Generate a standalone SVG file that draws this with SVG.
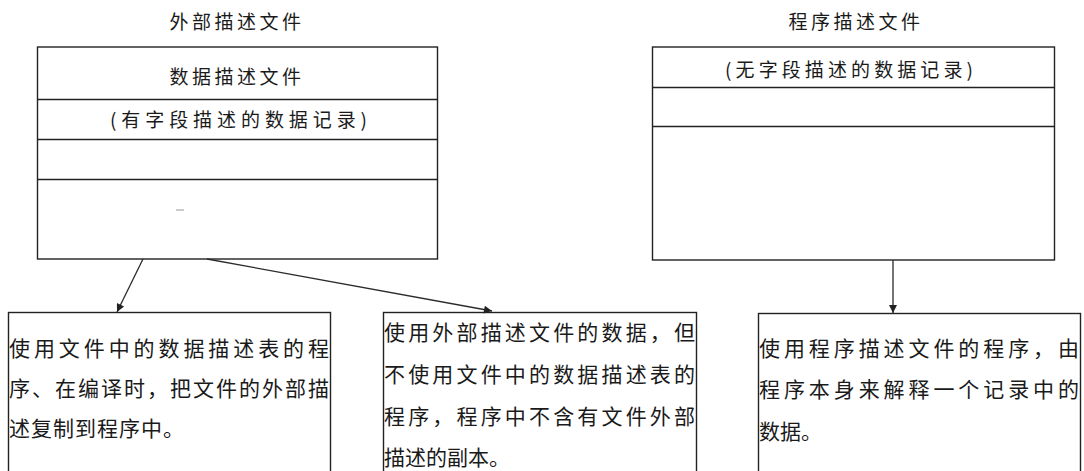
<svg xmlns="http://www.w3.org/2000/svg" width="1084" height="471" viewBox="0 0 1084 471">
<style>
.bx{fill:none;stroke:#222;stroke-width:1.4}
.ln{stroke:#222;stroke-width:1.3}
.t{font-family:"Noto Sans CJK SC","Noto Sans CJK JP",sans-serif;fill:#1a1a1a;dominant-baseline:central}
.h{font-size:19px;letter-spacing:3.5px}
.b{font-size:21px}
.c{stroke:#2a2a2a;stroke-width:1.3;fill:none}
</style>
<defs>
<marker id="ah" viewBox="0 0 10 10" refX="10" refY="5" markerWidth="12" markerHeight="8" markerUnits="userSpaceOnUse" orient="auto">
<path d="M0,0 L10,5 L0,10 Z" fill="#222"/>
</marker>
</defs>
<rect width="1084" height="471" fill="#fff"/>

<g id="external-file">
<text class="t h" x="237" y="20" text-anchor="middle">外部描述文件</text>
<rect class="bx" x="37.5" y="47" width="400" height="212"/>
<line class="ln" x1="37.5" y1="99.5" x2="437.5" y2="99.5"/>
<line class="ln" x1="37.5" y1="139.5" x2="437.5" y2="139.5"/>
<line class="ln" x1="37.5" y1="179.5" x2="437.5" y2="179.5"/>
<text class="t h" x="237" y="75" text-anchor="middle">数据描述文件</text>
<text class="t" x="110" y="118" font-size="19" textLength="257" lengthAdjust="spacing">(有字段描述的数据记录)</text>
<line x1="176" y1="210" x2="184" y2="210" stroke="#999" stroke-width="1"/>
</g>

<g id="program-file">
<text class="t h" x="856" y="20" text-anchor="middle">程序描述文件</text>
<rect class="bx" x="652.5" y="47" width="402" height="213"/>
<line class="ln" x1="652.5" y1="87.5" x2="1054.5" y2="87.5"/>
<line class="ln" x1="652.5" y1="126.5" x2="1054.5" y2="126.5"/>
<text class="t" x="725" y="68" font-size="19" textLength="248" lengthAdjust="spacing">(无字段描述的数据记录)</text>
</g>

<g id="prog-with-table">
<rect class="bx" x="8.5" y="312.5" width="322" height="180"/>
<text class="t b" x="9" y="347" textLength="320" lengthAdjust="spacing">使用文件中的数据描述表的程</text>
<text class="t b" x="9" y="387" textLength="320" lengthAdjust="spacing">序、在编译时，把文件的外部描</text>
<text class="t b" x="9" y="427" letter-spacing="1">述复制到程序中。</text>
</g>

<g id="prog-no-table">
<rect class="bx" x="383.5" y="312.5" width="313" height="180"/>
<text class="t b" x="384" y="331" textLength="311" lengthAdjust="spacing">使用外部描述文件的数据，但</text>
<text class="t b" x="384" y="373" textLength="311" lengthAdjust="spacing">不使用文件中的数据描述表的</text>
<text class="t b" x="384" y="415" textLength="311" lengthAdjust="spacing">程序，程序中不含有文件外部</text>
<text class="t b" x="384" y="456">描述的副本。</text>
</g>

<g id="prog-own-desc">
<rect class="bx" x="758.5" y="313.5" width="322" height="180"/>
<text class="t b" x="759" y="347" textLength="320" lengthAdjust="spacing">使用程序描述文件的程序，由</text>
<text class="t b" x="759" y="388" textLength="320" lengthAdjust="spacing">程序本身来解释一个记录中的</text>
<text class="t b" x="759" y="430">数据。</text>
</g>

<g id="connectors">
<line class="c" x1="143" y1="259" x2="117" y2="312" marker-end="url(#ah)"/>
<line class="c" x1="207" y1="259" x2="492" y2="311" marker-end="url(#ah)"/>
<line class="c" x1="893" y1="260" x2="893" y2="313" stroke="#555" marker-end="url(#ah)"/>
</g>
</svg>
